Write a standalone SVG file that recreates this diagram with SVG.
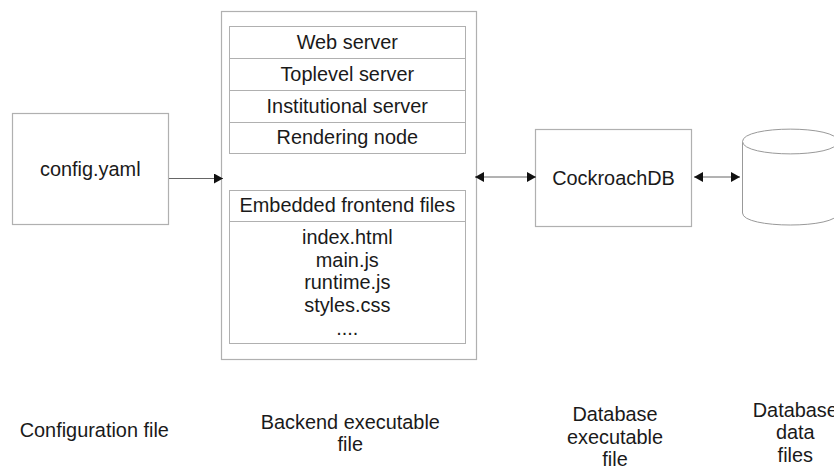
<svg xmlns="http://www.w3.org/2000/svg" width="834" height="467" viewBox="0 0 834 467">
<style>
text{font-family:"Liberation Sans",Arial,sans-serif;font-size:19.9px;fill:#1a1a1a;text-anchor:middle}
.b{fill:#fff;stroke:#b0b0b0;stroke-width:1.200}
.i{fill:#fff;stroke:#b0b0b0;stroke-width:1}
.s{fill:#fff;stroke:#999;stroke-width:1}
.c{fill:none;stroke:#666;stroke-width:1}
</style>
<defs>
<marker id="e" viewBox="0 0 9 10" refX="9" refY="5" markerWidth="9" markerHeight="10" orient="auto-start-reverse" markerUnits="userSpaceOnUse"><path d="M0 0L9 5L0 10Z" fill="#111"/></marker>
</defs>
<rect width="834" height="467" fill="#fff"/>
<g id="config"><rect class="b" x="12.500" y="113.500" width="156" height="111"/><text x="90.300" y="176">config.yaml</text></g>
<g id="backend">
<rect class="b" x="221.500" y="11.500" width="255" height="348"/>
<rect class="i" x="229.500" y="26.500" width="236" height="32"/><text x="347.300" y="49">Web server</text>
<rect class="i" x="229.500" y="58.500" width="236" height="32"/><text x="347.300" y="81">Toplevel server</text>
<rect class="i" x="229.500" y="90.500" width="236" height="32"/><text x="347.300" y="113">Institutional server</text>
<rect class="i" x="229.500" y="122.500" width="236" height="31"/><text x="347.300" y="144">Rendering node</text>
<rect class="i" x="229.500" y="190.500" width="236" height="31"/><text x="347.300" y="212">Embedded frontend files</text>
<rect class="i" x="229.500" y="221.500" width="236" height="122"/>
<text x="347.300" y="244">index.html</text><text x="347.300" y="267">main.js</text><text x="347.300" y="289">runtime.js</text><text x="347.300" y="312">styles.css</text><text x="347.300" y="335">....</text>
</g>
<g id="cockroach"><rect class="b" x="535.500" y="129.500" width="156" height="97"/><text x="613.500" y="185">CockroachDB</text></g>
<g id="datafiles"><path class="s" d="M742.500 141.500C742.500 125 838 125 838 141.500V213C838 229 742.500 229 742.500 213Z"/><path class="s" d="M742.500 141.500C742.500 158 838 158 838 141.500" fill="none"/></g>
<g id="connectors">
<path class="c" d="M169 178.500H223" marker-end="url(#e)"/>
<path class="c" d="M475 177H536" marker-start="url(#e)" marker-end="url(#e)"/>
<path class="c" d="M694 177H740" marker-start="url(#e)" marker-end="url(#e)"/>
</g>
<g id="labels">
<text x="94.300" y="437">Configuration file</text>
<text x="350.300" y="429">Backend executable</text><text x="350.300" y="451">file</text>
<text x="615" y="421">Database</text><text x="615" y="444">executable</text><text x="615" y="465.500">file</text>
<text x="795.300" y="417">Database</text><text x="795.300" y="439">data</text><text x="795.300" y="462">files</text>
</g>
</svg>
